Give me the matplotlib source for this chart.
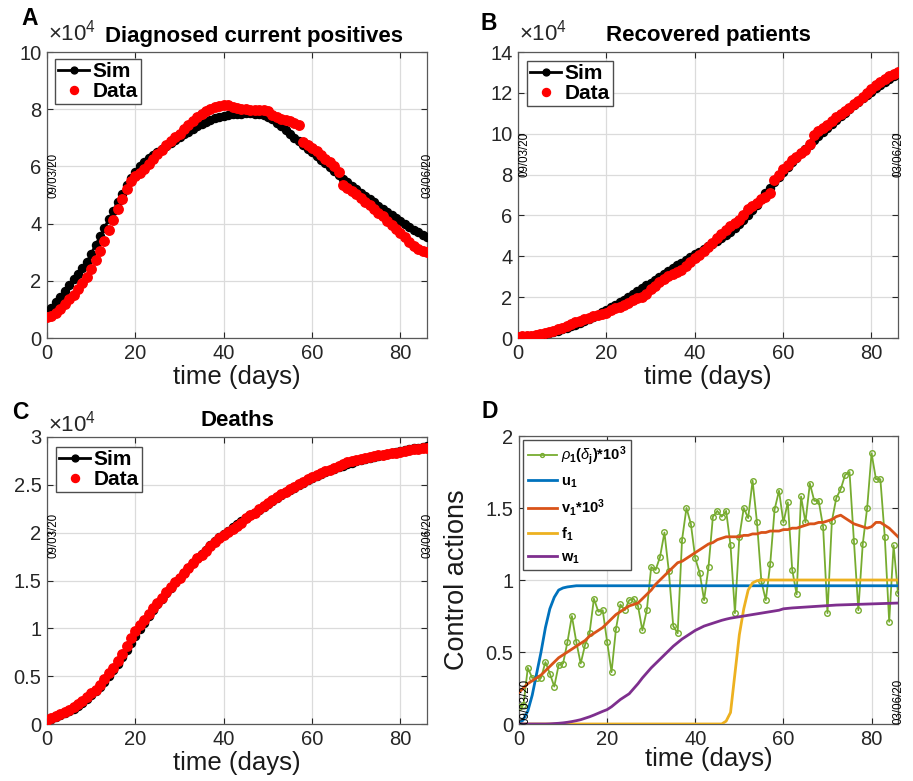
import matplotlib
matplotlib.use('Agg')
import matplotlib.pyplot as plt
from matplotlib.ticker import FuncFormatter

plt.rcParams['font.family'] = ['Liberation Sans', 'DejaVu Sans']
plt.rcParams['mathtext.fontset'] = 'custom'
plt.rcParams['mathtext.rm'] = 'Liberation Sans'
plt.rcParams['mathtext.it'] = 'Liberation Sans:italic'
plt.rcParams['mathtext.bf'] = 'Liberation Sans:bold'

days = list(range(87))
start_label = '09/03/20'
end_label = '03/06/20'

# ---- Panel A: diagnosed current positives (x 10^4) ----
pos_sim = [0.87, 1.05, 1.25, 1.45, 1.65, 1.85, 2.05, 2.25, 2.45, 2.65,
           2.95, 3.25, 3.55, 3.85, 4.15, 4.45, 4.75, 5.05, 5.35, 5.60,
           5.82, 6.00, 6.15, 6.28, 6.40, 6.52, 6.62, 6.72, 6.82, 6.92,
           7.02, 7.12, 7.22, 7.32, 7.40, 7.48, 7.55, 7.62, 7.68, 7.73,
           7.77, 7.80, 7.82, 7.83, 7.84, 7.85, 7.85, 7.84, 7.83, 7.80,
           7.74, 7.64, 7.52, 7.40, 7.27, 7.14, 7.01, 6.88, 6.75, 6.62,
           6.49, 6.36, 6.24, 6.11, 5.98, 5.85, 5.70, 5.57, 5.45, 5.33,
           5.21, 5.08, 4.96, 4.85, 4.74, 4.63, 4.52, 4.42, 4.30, 4.19,
           4.08, 3.98, 3.88, 3.78, 3.69, 3.60, 3.52]
pos_data = [0.72, 0.76, 0.88, 1.02, 1.18, 1.35, 1.52, 1.70, 1.92, 2.15,
            2.40, 2.72, 3.05, 3.40, 3.78, 4.12, 4.50, 4.85, 5.20, 5.50,
            5.68, 5.78, 5.92, 6.08, 6.25, 6.42, 6.58, 6.74, 6.88, 7.02,
            7.15, 7.30, 7.45, 7.60, 7.72, 7.83, 7.92, 8.00, 8.07, 8.12,
            8.16, 8.13, 8.09, 8.05, 8.02, 8.00, 7.98, 7.97, 7.98, 7.96,
            7.93, 7.78, 7.72, 7.66, 7.62, 7.58, 7.52, 7.45, 6.85, 6.75,
            6.65, 6.55, 6.40, 6.27, 6.15, 6.00, 5.80, 5.35, 5.25, 5.15,
            5.02, 4.90, 4.76, 4.65, 4.50, 4.38, 4.25, 4.10, 3.95, 3.82,
            3.68, 3.52, 3.36, 3.22, 3.12, 3.05, 3.02]

# ---- Panel B: recovered patients (x 10^4) ----
rec_sim = [0.05, 0.06, 0.08, 0.10, 0.13, 0.16, 0.20, 0.25, 0.30, 0.36,
           0.43, 0.50, 0.58, 0.66, 0.75, 0.84, 0.94, 1.04, 1.15, 1.26,
           1.38, 1.50, 1.62, 1.75, 1.88, 2.01, 2.15, 2.29, 2.43, 2.57,
           2.71, 2.85, 2.99, 3.13, 3.27, 3.41, 3.55, 3.69, 3.83, 3.97,
           4.10, 4.23, 4.36, 4.49, 4.62, 4.76, 4.90, 5.05, 5.21, 5.38,
           5.57, 5.78, 6.01, 6.26, 6.52, 6.80, 7.08, 7.36, 7.63, 7.89,
           8.14, 8.38, 8.61, 8.83, 9.05, 9.26, 9.47, 9.68, 9.88, 10.08,
           10.28, 10.47, 10.66, 10.85, 11.03, 11.21, 11.39, 11.56, 11.73, 11.90,
           12.06, 12.22, 12.38, 12.53, 12.68, 12.82, 12.96]
rec_data = [0.07, 0.08, 0.10, 0.12, 0.15, 0.19, 0.24, 0.29, 0.35, 0.42,
            0.50, 0.58, 0.67, 0.76, 0.85, 0.92, 1.00, 1.07, 1.13, 1.18,
            1.22, 1.35, 1.45, 1.52, 1.60, 1.72, 1.85, 1.95, 2.03, 2.15,
            2.38, 2.55, 2.72, 2.88, 3.02, 3.12, 3.22, 3.35, 3.52, 3.72,
            3.90, 4.08, 4.25, 4.45, 4.65, 4.88, 5.10, 5.30, 5.48, 5.62,
            5.78, 6.00, 6.32, 6.48, 6.62, 6.78, 6.92, 7.08, 7.72, 7.98,
            8.25, 8.48, 8.70, 8.88, 9.05, 9.22, 9.50, 9.95, 10.12, 10.28,
            10.45, 10.62, 10.80, 10.96, 11.12, 11.28, 11.45, 11.62, 11.80, 12.00,
            12.18, 12.38, 12.55, 12.70, 12.82, 12.92, 13.00]

# ---- Panel C: deaths (x 10^4) ----
dea_sim = [0.04, 0.055, 0.07, 0.09, 0.11, 0.135, 0.16, 0.19, 0.22, 0.26,
           0.30, 0.34, 0.39, 0.44, 0.50, 0.56, 0.63, 0.70, 0.77, 0.85,
           0.92, 0.99, 1.06, 1.13, 1.19, 1.25, 1.31, 1.37, 1.42, 1.48,
           1.53, 1.58, 1.63, 1.68, 1.73, 1.78, 1.82, 1.87, 1.91, 1.95,
           1.99, 2.02, 2.06, 2.09, 2.12, 2.15, 2.18, 2.21, 2.24, 2.27,
           2.30, 2.33, 2.36, 2.39, 2.42, 2.45, 2.47, 2.50, 2.52, 2.55,
           2.57, 2.59, 2.61, 2.63, 2.65, 2.67, 2.69, 2.70, 2.72, 2.73,
           2.75, 2.76, 2.77, 2.78, 2.79, 2.80, 2.81, 2.82, 2.83, 2.84,
           2.85, 2.86, 2.87, 2.88, 2.89, 2.90, 2.91]
dea_data = [0.046, 0.063, 0.083, 0.10, 0.125, 0.15, 0.18, 0.21, 0.24, 0.28,
            0.32, 0.36, 0.41, 0.47, 0.53, 0.59, 0.66, 0.73, 0.82, 0.90,
            0.97, 1.03, 1.09, 1.15, 1.21, 1.27, 1.32, 1.38, 1.43, 1.48,
            1.53, 1.58, 1.63, 1.68, 1.73, 1.77, 1.81, 1.86, 1.90, 1.94,
            1.98, 2.01, 2.04, 2.07, 2.10, 2.15, 2.18, 2.21, 2.25, 2.28,
            2.31, 2.34, 2.37, 2.40, 2.43, 2.46, 2.48, 2.51, 2.53, 2.56,
            2.58, 2.60, 2.62, 2.64, 2.66, 2.68, 2.70, 2.72, 2.735, 2.75,
            2.76, 2.77, 2.78, 2.79, 2.80, 2.81, 2.815, 2.82, 2.83, 2.835,
            2.84, 2.85, 2.86, 2.87, 2.875, 2.88, 2.89]

# ---- Panel D: control actions ----
rho1 = [0.12, 0.13, 0.39, 0.32, 0.32, 0.32, 0.43, 0.35, 0.26, 0.41,
        0.42, 0.57, 0.75, 0.57, 0.42, 0.55, 0.63, 0.87, 0.78, 0.79,
        0.57, 0.36, 0.66, 0.83, 0.79, 0.86, 0.87, 0.82, 0.65, 0.79,
        1.09, 1.07, 1.16, 1.33, 1.06, 0.68, 0.63, 1.28, 1.50, 1.39,
        1.15, 1.05, 0.86, 1.09, 1.44, 1.48, 1.44, 1.48, 1.24, 0.77,
        1.30, 1.50, 1.43, 1.69, 1.40, 0.99, 0.86, 1.11, 1.49, 1.62,
        1.40, 1.54, 1.07, 0.90, 1.58, 1.40, 1.67, 1.55, 1.55, 1.37,
        0.77, 1.41, 1.57, 1.63, 1.73, 1.75, 1.27, 0.79, 1.25, 1.50,
        1.88, 1.70, 1.70, 1.30, 0.71, 1.24, 0.91]
u1 = [0.0, 0.03, 0.09, 0.20, 0.35, 0.50, 0.67, 0.80, 0.88, 0.93,
      0.945, 0.952, 0.956] + [0.96] * 74
v1 = [0.22, 0.25, 0.28, 0.30, 0.32, 0.34, 0.37, 0.40, 0.43, 0.46,
      0.48, 0.50, 0.52, 0.54, 0.56, 0.58, 0.61, 0.63, 0.65, 0.67,
      0.70, 0.73, 0.76, 0.78, 0.80, 0.82, 0.83, 0.84, 0.87, 0.90,
      0.93, 0.97, 1.00, 1.03, 1.06, 1.09, 1.12, 1.13, 1.15, 1.17,
      1.19, 1.21, 1.23, 1.25, 1.26, 1.28, 1.29, 1.30, 1.30, 1.30,
      1.30, 1.31, 1.31, 1.32, 1.32, 1.33, 1.33, 1.34, 1.34, 1.34,
      1.35, 1.35, 1.36, 1.36, 1.37, 1.38, 1.39, 1.39, 1.40, 1.40,
      1.41, 1.42, 1.44, 1.45, 1.43, 1.41, 1.39, 1.38, 1.37, 1.36,
      1.37, 1.40, 1.40, 1.38, 1.36, 1.33, 1.30]
f1 = [0.0] * 47 + [0.02, 0.08, 0.35, 0.62, 0.80, 0.93, 0.98, 0.995] + [1.0] * 32
w1 = [0.0, 0.0, 0.0, 0.0, 0.0, 0.0, 0.0, 0.001, 0.003, 0.005,
      0.008, 0.012, 0.017, 0.023, 0.030, 0.040, 0.050, 0.062, 0.075, 0.088,
      0.10, 0.12, 0.145, 0.17, 0.19, 0.21, 0.245, 0.28, 0.32, 0.355,
      0.39, 0.42, 0.45, 0.48, 0.51, 0.54, 0.565, 0.59, 0.61, 0.63,
      0.65, 0.665, 0.68, 0.69, 0.70, 0.71, 0.72, 0.728, 0.735, 0.74,
      0.745, 0.75, 0.755, 0.76, 0.765, 0.77, 0.775, 0.78, 0.785, 0.79,
      0.80, 0.803, 0.806, 0.808, 0.81, 0.812, 0.814, 0.816, 0.818, 0.82,
      0.822, 0.824, 0.826, 0.827, 0.828, 0.829, 0.83, 0.831, 0.832, 0.833,
      0.834, 0.835, 0.836, 0.837, 0.838, 0.839, 0.84]

W, H = 913, 781
fig = plt.figure(figsize=(W / 100, H / 100), dpi=100)


def ax_at(x0, y0, x1, y1):
    return fig.add_axes([x0 / W, 1 - y1 / H, (x1 - x0) / W, (y1 - y0) / H])


fmt = FuncFormatter(lambda v, p: f'{v:g}')
SPINE = '0.35'


def style(ax, ymax, ystep):
    ax.set_xlim(0, 86)
    ax.set_ylim(0, ymax)
    ax.set_xticks([0, 20, 40, 60, 80])
    n = int(round(ymax / ystep))
    ax.set_yticks([i * ystep for i in range(n + 1)])
    ax.yaxis.set_major_formatter(fmt)
    ax.grid(True, color='0.86', linewidth=0.9)
    ax.set_axisbelow(True)
    ax.tick_params(direction='in', length=4, width=0.8, labelsize=14.5,
                   colors='0.15', pad=4, top=True, right=True,
                   labeltop=False, labelright=False)
    for s in ax.spines.values():
        s.set_color(SPINE)
        s.set_linewidth(0.9)
    ax.set_xlabel('time (days)', fontsize=18.5, color='0.1')


def exp_label(ax, ypix_gap):
    ax.text(0.003, 1.0 + ypix_gap, r'$\times$10$^4$', transform=ax.transAxes,
            ha='left', va='bottom', fontsize=16, color='0.15')


def sim_data(ax, sim, data, leg_anchor):
    ax.plot(days, sim, '-o', color='black', lw=2, ms=5.8, mfc='black',
            mec='black', label='Sim', zorder=3)
    ax.plot(days, data, 'o', color='red', ms=6.8, mec='red', mfc='red',
            ls='none', label='Data', zorder=4)
    leg = ax.legend(loc='upper left', bbox_to_anchor=leg_anchor,
                    borderaxespad=0, prop={'weight': 'bold', 'size': 15},
                    fancybox=False, framealpha=1, edgecolor='0.3',
                    handlelength=1.5, handletextpad=0.15, borderpad=0.15,
                    labelspacing=0.05, markerscale=0.85)
    leg.get_frame().set_linewidth(1.0)


def dates(ax, y, va='center'):
    ax.text(0, y, start_label, rotation=90, ha='left', va=va, fontsize=8.3)
    ax.text(86, y, end_label, rotation=90, ha='center', va=va, fontsize=8.3)


# Panel A
axA = ax_at(47, 52, 427, 338)
style(axA, 10, 2)
sim_data(axA, pos_sim, pos_data, (0.021, 0.976))
axA.set_title('Diagnosed current positives', fontsize=16, fontweight='bold',
              x=0.545, pad=7)
exp_label(axA, 0.022)
dates(axA, 5.7)
axA.xaxis.set_label_coords(0.5, -0.095)

# Panel B
axB = ax_at(518, 52, 898, 338)
style(axB, 14, 2)
sim_data(axB, rec_sim, rec_data, (0.024, 0.969))
axB.set_title('Recovered patients', fontsize=16, fontweight='bold', pad=8)
exp_label(axB, 0.022)
dates(axB, 9.0)
axB.xaxis.set_label_coords(0.5, -0.095)

# Panel C
axC = ax_at(47, 437, 427, 724)
style(axC, 3, 0.5)
sim_data(axC, dea_sim, dea_data, (0.024, 0.965))
axC.set_title('Deaths', fontsize=16, fontweight='bold', pad=8)
exp_label(axC, 0.003)
dates(axC, 1.97)
axC.xaxis.set_label_coords(0.5, -0.095)

# Panel D
axD = ax_at(519, 436, 898, 724)
style(axD, 2, 0.5)
axD.plot(days, rho1, '-o', color='#77AC30', lw=1.3, ms=4, mfc='none',
         mew=1.0, label=r'$\rho_\mathbf{1}\mathbf{(}\delta_\mathbf{j}\mathbf{)}$*10$^\mathbf{3}$',
         zorder=3)
axD.plot(days, u1, '-', color='#0072BD', lw=2, label=r'u$_\mathbf{1}$', zorder=3)
axD.plot(days, v1, '-', color='#D95319', lw=2, label=r'v$_\mathbf{1}$*10$^\mathbf{3}$', zorder=3)
axD.plot(days, f1, '-', color='#EDB120', lw=2, label=r'f$_\mathbf{1}$', zorder=3)
axD.plot(days, w1, '-', color='#7E2F8E', lw=2, label=r'w$_\mathbf{1}$', zorder=3)
legD = axD.legend(loc='upper left', bbox_to_anchor=(0.011, 0.986),
                  borderaxespad=0, prop={'weight': 'bold', 'size': 10.5},
                  fancybox=False, framealpha=1, edgecolor='0.3',
                  handlelength=2.0, handletextpad=0.3, borderpad=0.3,
                  labelspacing=0.5, markerscale=0.7)
legD.get_frame().set_linewidth(1.0)
axD.set_ylabel('Control actions', fontsize=19.5, color='0.1')
axD.yaxis.set_label_coords(-0.13, 0.5)
dates(axD, 0.0, va='bottom')
axD.xaxis.set_label_coords(0.5, -0.08)

# panel letters
for letter, (px, py) in {'A': (21, 7), 'B': (480, 12), 'C': (12, 401), 'D': (481, 400)}.items():
    fig.text(px / W, 1 - py / H, letter, fontsize=16.5, fontweight='bold',
             ha='left', va='top')

fig.savefig('out.png', dpi=100)
